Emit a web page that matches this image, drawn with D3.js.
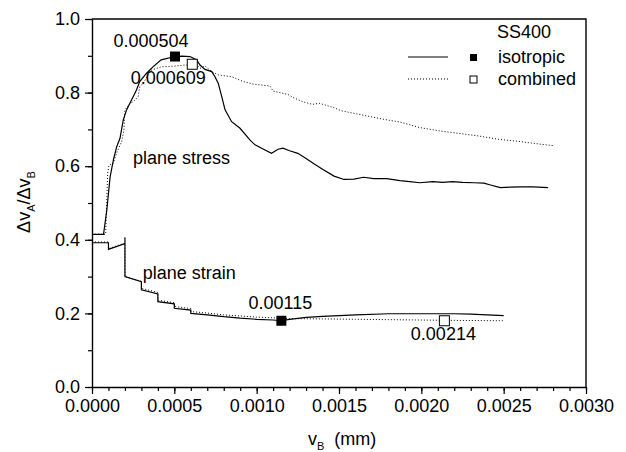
<!DOCTYPE html>
<html>
<head>
<meta charset="utf-8">
<script src="https://cdn.jsdelivr.net/npm/d3@7"></script>
<style>
  body { margin: 0; background: #fff; }
  text { font-family: "Liberation Sans", Arial, sans-serif; fill: #000; }
</style>
</head>
<body>
<div id="chart"></div>
<script>
// plane stress, isotropic hardening (solid)
var stressIso = [[0,0.415],[0.00007,0.415],[0.00009,0.481],[0.00011,0.571],[0.00013,0.617],[0.00015,0.653],[0.00017,0.676],[0.00019,0.726],[0.00021,0.753],[0.00023,0.771],[0.00025,0.789],[0.00027,0.807],[0.00029,0.830],[0.00033,0.852],[0.00037,0.870],[0.00042,0.889],[0.000504,0.898],[0.000545,0.899],[0.000595,0.898],[0.000636,0.889],[0.000656,0.875],[0.000686,0.863],[0.000727,0.857],[0.000747,0.843],[0.000767,0.825],[0.000788,0.789],[0.000808,0.753],[0.000848,0.721],[0.000899,0.703],[0.00096,0.671],[0.00099,0.658],[0.00103,0.649],[0.00109,0.635],[0.00113,0.646],[0.00116,0.649],[0.00120,0.642],[0.00125,0.635],[0.00130,0.621],[0.00135,0.606],[0.00140,0.592],[0.00147,0.573],[0.00153,0.564],[0.00159,0.565],[0.00165,0.570],[0.00171,0.566],[0.00179,0.566],[0.00187,0.561],[0.00193,0.558],[0.00199,0.555],[0.00207,0.558],[0.00213,0.556],[0.00219,0.558],[0.00225,0.556],[0.00232,0.555],[0.00238,0.554],[0.00242,0.549],[0.00248,0.542],[0.00254,0.543],[0.00260,0.544],[0.00268,0.544],[0.00277,0.542]];

// plane stress, combined hardening (dotted)
var stressComb = [[0,0.415],[0.000083,0.415],[0.000095,0.581],[0.000103,0.603],[0.000129,0.608],[0.000152,0.639],[0.00018,0.667],[0.000194,0.698],[0.0002,0.753],[0.00023,0.771],[0.00025,0.775],[0.00028,0.789],[0.00029,0.816],[0.00031,0.825],[0.00033,0.839],[0.00036,0.861],[0.00042,0.870],[0.000504,0.872],[0.000565,0.875],[0.000636,0.875],[0.000656,0.866],[0.000686,0.872],[0.000727,0.857],[0.000767,0.848],[0.000848,0.843],[0.000919,0.830],[0.00098,0.823],[0.00102,0.821],[0.00108,0.818],[0.00110,0.804],[0.00119,0.795],[0.00122,0.787],[0.00128,0.775],[0.00134,0.768],[0.00138,0.771],[0.00147,0.759],[0.00151,0.751],[0.00161,0.742],[0.00171,0.733],[0.00179,0.726],[0.00187,0.720],[0.00199,0.705],[0.00211,0.696],[0.00223,0.689],[0.00235,0.682],[0.00247,0.673],[0.00260,0.667],[0.00272,0.660],[0.00280,0.656]];

// plane strain, isotropic (solid)
var strainIso = [[0,0.392],[0.0001,0.392],[0.0001,0.374],[0.0002,0.390],[0.0002,0.407],[0.0002,0.300],[0.0003,0.286],[0.0003,0.264],[0.0004,0.253],[0.0004,0.232],[0.0005,0.226],[0.0005,0.214],[0.0006,0.209],[0.0006,0.200],[0.0007,0.196],[0.0008,0.191],[0.0009,0.187],[0.001,0.184],[0.0011,0.182],[0.00115,0.180],[0.0012,0.184],[0.0013,0.189],[0.0014,0.192],[0.0016,0.196],[0.0018,0.199],[0.002,0.199],[0.0022,0.199],[0.0023,0.198],[0.0025,0.194]];

// plane strain, combined (dotted)
var strainComb = [[0,0.394],[0.0001,0.394],[0.0001,0.376],[0.0002,0.391],[0.0002,0.300],[0.0003,0.287],[0.0003,0.268],[0.0004,0.257],[0.0004,0.236],[0.0005,0.229],[0.0005,0.219],[0.0006,0.213],[0.0006,0.205],[0.0007,0.201],[0.0008,0.196],[0.0009,0.193],[0.001,0.190],[0.0011,0.188],[0.0012,0.186],[0.0014,0.185],[0.0016,0.184],[0.0018,0.183],[0.002,0.182],[0.0022,0.181],[0.0025,0.180]];

// marked points: [v, ratio, label]
var isoMarks = [[0.000504, 0.898, "0.000504"], [0.00115, 0.180, "0.00115"]];
var combMarks = [[0.000609, 0.877, "0.000609"], [0.00214, 0.180, "0.00214"]];

var xTicks = [0, 0.0005, 0.001, 0.0015, 0.002, 0.0025, 0.003];
var yTicks = [0, 0.2, 0.4, 0.6, 0.8, 1.0];

var svgWidth = 626, svgHeight = 452;
var margin = {top: 19, right: 40, bottom: 65, left: 92};
var width = svgWidth - margin.left - margin.right;
var height = svgHeight - margin.top - margin.bottom;
var fs = "18px";

var svg = d3.select("#chart").append("svg")
  .attr("width", svgWidth)
  .attr("height", svgHeight);

var g = svg.append("g")
  .attr("transform", `translate(${margin.left}, ${margin.top})`);

var x = d3.scaleLinear().domain([0, 0.003]).range([0, width]);
var y = d3.scaleLinear().domain([0, 1]).range([height, 0]);

// minor ticks
g.append("g")
  .attr("transform", `translate(0, ${height})`)
  .call(d3.axisBottom(x).tickValues(d3.range(0, 31).map(d => d * 0.0001)).tickSize(4).tickFormat(""))
  .call(a => a.select(".domain").remove());
g.append("g")
  .call(d3.axisLeft(y).tickValues(d3.range(0, 11).map(d => d * 0.1)).tickSize(4).tickFormat(""))
  .call(a => a.select(".domain").remove());

// major axes
g.append("g")
  .attr("transform", `translate(0, ${height})`)
  .call(d3.axisBottom(x).tickValues(xTicks).tickSize(7).tickSizeOuter(0).tickPadding(5).tickFormat(d3.format(".4f")));
g.append("g")
  .call(d3.axisLeft(y).tickValues(yTicks).tickSize(7).tickSizeOuter(0).tickPadding(5).tickFormat(d3.format(".1f")));

g.selectAll(".tick text").attr("font-size", fs).attr("font-family", "Liberation Sans, Arial, sans-serif");
g.selectAll(".tick line").attr("stroke-width", 1.2);
g.selectAll(".domain").attr("stroke-width", 1.4);

// frame top and right
g.append("path")
  .attr("d", `M0,0H${width}V${height}`)
  .attr("fill", "none")
  .attr("stroke", "#000")
  .attr("stroke-width", 1.4);

var line = d3.line().x(d => x(d[0])).y(d => y(d[1]));

[stressIso, strainIso].forEach(function(s) {
  g.append("path").datum(s).attr("d", line)
    .attr("fill", "none").attr("stroke", "#000").attr("stroke-width", 1.2);
});
[stressComb, strainComb].forEach(function(s) {
  g.append("path").datum(s).attr("d", line)
    .attr("fill", "none").attr("stroke", "#000").attr("stroke-width", 1)
    .attr("stroke-dasharray", "1,2");
});

// markers
var ms = 10;
g.selectAll(".iso").data(isoMarks).enter().append("rect")
  .attr("x", d => x(d[0]) - ms / 2).attr("y", d => y(d[1]) - ms / 2)
  .attr("width", ms).attr("height", ms).attr("fill", "#000");
g.selectAll(".comb").data(combMarks).enter().append("rect")
  .attr("x", d => x(d[0]) - ms / 2).attr("y", d => y(d[1]) - ms / 2)
  .attr("width", ms).attr("height", ms).attr("fill", "#fff").attr("stroke", "#000").attr("stroke-width", 1);

// marker labels
var labelOff = [[-24, -10], [-1, -12], [-24, 20], [-1, 19]];
[isoMarks[0], isoMarks[1], combMarks[0], combMarks[1]].forEach(function(d, i) {
  g.append("text")
    .attr("x", x(d[0]) + labelOff[i][0])
    .attr("y", y(d[1]) + labelOff[i][1])
    .attr("text-anchor", "middle")
    .attr("font-size", fs)
    .text(d[2]);
});

g.append("text").attr("x", x(0.000249)).attr("y", y(0.607)).attr("font-size", fs).text("plane stress");
g.append("text").attr("x", x(0.000308)).attr("y", y(0.293)).attr("font-size", fs).text("plane strain");

// legend
var lg = svg.append("g");
lg.append("text").attr("x", 497).attr("y", 38).attr("font-size", fs).text("SS400");
lg.append("line").attr("x1", 408).attr("x2", 448).attr("y1", 57).attr("y2", 57)
  .attr("stroke", "#000").attr("stroke-width", 1.2);
lg.append("rect").attr("x", 470).attr("y", 54).attr("width", 7).attr("height", 7).attr("fill", "#000");
lg.append("text").attr("x", 498).attr("y", 63).attr("font-size", fs).text("isotropic");
lg.append("line").attr("x1", 408).attr("x2", 448).attr("y1", 79).attr("y2", 79)
  .attr("stroke", "#000").attr("stroke-width", 1).attr("stroke-dasharray", "1,2");
lg.append("rect").attr("x", 470).attr("y", 76).attr("width", 7).attr("height", 7)
  .attr("fill", "#fff").attr("stroke", "#000").attr("stroke-width", 1);
lg.append("text").attr("x", 498).attr("y", 85).attr("font-size", fs).text("combined");

// axis titles
var xt = svg.append("text").attr("x", 308).attr("y", 445).attr("font-size", fs);
xt.append("tspan").text("v");
xt.append("tspan").attr("font-size", "11px").attr("dy", 5).text("B");
xt.append("tspan").attr("dy", -5).attr("dx", 10).text("(mm)");

var yt = svg.append("text")
  .attr("transform", "translate(30, 202) rotate(-90)")
  .attr("text-anchor", "middle")
  .attr("font-size", fs);
yt.append("tspan").text("\u0394v");
yt.append("tspan").attr("font-size", "11px").attr("dy", 5).text("A");
yt.append("tspan").attr("dy", -5).text("/\u0394v");
yt.append("tspan").attr("font-size", "11px").attr("dy", 5).text("B");
</script>
</body>
</html>
